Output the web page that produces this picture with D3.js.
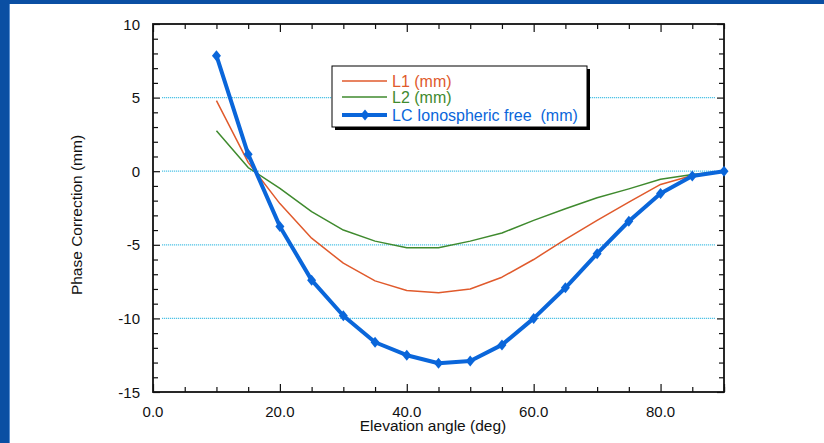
<!DOCTYPE html>
<html>
<head>
<meta charset="utf-8">
<script src="https://cdn.jsdelivr.net/npm/d3@7"></script>
<style>
  html, body { margin: 0; padding: 0; background: #fff; }
  svg { display: block; }
  text { font-family: "Liberation Sans", Arial, Helvetica, sans-serif; white-space: pre; }
</style>
</head>
<body>
<svg id="chart" width="824" height="443"></svg>
<script>
// Elevation angles (deg) and phase corrections (mm)
const angles = [10, 15, 20, 25, 30, 35, 40, 45, 50, 55, 60, 65, 70, 75, 80, 85, 90];
const l1 = [4.8, 0.6, -2.2, -4.55, -6.25, -7.45, -8.1, -8.25, -8.0, -7.2, -6.0, -4.63, -3.34, -2.1, -0.9, -0.29, 0];
const l2 = [2.75, 0.25, -1.17, -2.75, -4.0, -4.75, -5.2, -5.2, -4.75, -4.2, -3.34, -2.55, -1.8, -1.2, -0.55, -0.22, 0];
const lc = [7.85, 1.15, -3.75, -7.4, -9.82, -11.62, -12.5, -13.05, -12.9, -11.8, -10.0, -7.92, -5.6, -3.4, -1.52, -0.33, 0];

const xMajor = [0, 20, 40, 60, 80];
const yMajor = [10, 5, 0, -5, -10, -15];
const gridValues = [5, 0, -5, -10];

const seriesNames = ["L1 (mm)", "L2 (mm)", "LC Ionospheric free  (mm)"];
const colors = { l1: "#e05a2c", l2: "#3f8a2e", lc: "#0a66da" };

const svg = d3.select("#chart");
const W = 824, H = 443;
const plot = { left: 153, right: 724, top: 24, bottom: 392 };

// page frame: blue band at the top and left edge
svg.append("rect").attr("width", W).attr("height", H).attr("fill", "#fff");
svg.append("rect").attr("x", 0).attr("y", 0).attr("width", W).attr("height", 4).attr("fill", "#0a4fa3");
svg.append("rect").attr("x", 0).attr("y", 0).attr("width", 9).attr("height", H).attr("fill", "#0a4fa3");
svg.append("rect").attr("x", 9).attr("y", 4).attr("width", 1).attr("height", H).attr("fill", "#5a8fd0");

const x = d3.scaleLinear().domain([0, 90]).range([plot.left, plot.right]);
const y = d3.scaleLinear().domain([-15, 10]).range([plot.bottom, plot.top]);

// dotted horizontal gridlines
svg.append("g").selectAll("line").data(gridValues).join("line")
  .attr("x1", plot.left + 9).attr("x2", plot.right - 9)
  .attr("y1", d => y(d)).attr("y2", d => y(d))
  .attr("stroke", "#4fc3e6").attr("stroke-width", 1.2).attr("stroke-dasharray", "1.2,0.8");

// axes with inward ticks on all four sides
const xMinor = d3.range(0, 91, 5).filter(v => v % 20 !== 0);
const yMinor = d3.range(-15, 11, 1).filter(v => v % 5 !== 0);

function tickAxis(axisFn, scale, values, size) {
  return axisFn(scale).tickValues(values).tickSize(size).tickFormat("");
}

const axes = svg.append("g").attr("class", "axes");
// bottom
axes.append("g").attr("transform", `translate(0,${plot.bottom})`)
  .call(tickAxis(d3.axisTop, x, xMajor.concat([90]), 8));
axes.append("g").attr("transform", `translate(0,${plot.bottom})`)
  .call(tickAxis(d3.axisTop, x, xMinor, 5));
// top
axes.append("g").attr("transform", `translate(0,${plot.top})`)
  .call(tickAxis(d3.axisBottom, x, xMajor, 8));
axes.append("g").attr("transform", `translate(0,${plot.top})`)
  .call(tickAxis(d3.axisBottom, x, xMinor, 5));
// left
axes.append("g").attr("transform", `translate(${plot.left},0)`)
  .call(tickAxis(d3.axisRight, y, yMajor, 7));
axes.append("g").attr("transform", `translate(${plot.left},0)`)
  .call(tickAxis(d3.axisRight, y, yMinor, 5));
// right
axes.append("g").attr("transform", `translate(${plot.right},0)`)
  .call(tickAxis(d3.axisLeft, y, yMajor, 7));
axes.append("g").attr("transform", `translate(${plot.right},0)`)
  .call(tickAxis(d3.axisLeft, y, yMinor, 5));
axes.selectAll(".domain").remove();
axes.selectAll(".tick line").attr("stroke", "#111").attr("stroke-width", 1.2);

// plot frame
svg.append("rect")
  .attr("x", plot.left).attr("y", plot.top)
  .attr("width", plot.right - plot.left).attr("height", plot.bottom - plot.top)
  .attr("fill", "none").attr("stroke", "#111").attr("stroke-width", 1.8);

// tick labels
svg.append("g").selectAll("text").data(xMajor).join("text")
  .attr("x", d => x(d)).attr("y", 417)
  .attr("text-anchor", "middle").attr("font-size", 15).attr("fill", "#111")
  .text(d => d3.format(".1f")(d));
svg.append("g").selectAll("text").data(yMajor).join("text")
  .attr("x", 140).attr("y", d => y(d) + 5.5)
  .attr("text-anchor", "end").attr("font-size", 15).attr("fill", "#111")
  .text(d => d);

// axis titles
svg.append("text")
  .attr("x", 433).attr("y", 431)
  .attr("text-anchor", "middle").attr("font-size", 15.5).attr("fill", "#111")
  .text("Elevation angle (deg)");
svg.append("text")
  .attr("transform", "translate(82,215) rotate(-90)")
  .attr("text-anchor", "middle").attr("font-size", 15.5).attr("fill", "#111")
  .text("Phase Correction (mm)");

// series lines
const line = d3.line().x((d, i) => x(angles[i])).y(d => y(d));
svg.append("path").datum(l1).attr("d", line)
  .attr("fill", "none").attr("stroke", colors.l1).attr("stroke-width", 1.5).attr("stroke-linejoin", "round");
svg.append("path").datum(l2).attr("d", line)
  .attr("fill", "none").attr("stroke", colors.l2).attr("stroke-width", 1.5).attr("stroke-linejoin", "round");
svg.append("path").datum(lc).attr("d", line)
  .attr("fill", "none").attr("stroke", colors.lc).attr("stroke-width", 4).attr("stroke-linejoin", "round");

// diamond marker, centred on the origin
const diamond = "M0,-5.5L4.5,0L0,5.5L-4.5,0Z";
svg.append("g").selectAll("path").data(lc).join("path")
  .attr("d", diamond)
  .attr("transform", (d, i) => `translate(${x(angles[i])},${y(d)})`)
  .attr("fill", colors.lc);

// legend box with drop shadow
const lg = { x: 332, y: 66, w: 255, h: 61 };
svg.append("rect").attr("x", lg.x + 3).attr("y", lg.y + 3).attr("width", lg.w).attr("height", lg.h).attr("fill", "#000");
svg.append("rect").attr("x", lg.x).attr("y", lg.y).attr("width", lg.w).attr("height", lg.h)
  .attr("fill", "#fff").attr("stroke", "#000").attr("stroke-width", 1);

const legendRows = [
  { name: seriesNames[0], color: colors.l1, width: 1.5, marker: false, cy: 81 },
  { name: seriesNames[1], color: colors.l2, width: 1.5, marker: false, cy: 97 },
  { name: seriesNames[2], color: colors.lc, width: 4, marker: true, cy: 115 }
];
const rows = svg.append("g").selectAll("g").data(legendRows).join("g");
rows.append("line")
  .attr("x1", 342).attr("x2", 387).attr("y1", d => d.cy).attr("y2", d => d.cy)
  .attr("stroke", d => d.color).attr("stroke-width", d => d.width);
rows.filter(d => d.marker).append("path")
  .attr("d", diamond).attr("transform", d => `translate(365,${d.cy})`).attr("fill", d => d.color);
rows.append("text")
  .attr("x", 392).attr("y", d => d.cy + 6)
  .attr("font-size", 16).attr("fill", d => d.color)
  .text(d => d.name);
</script>
</body>
</html>
